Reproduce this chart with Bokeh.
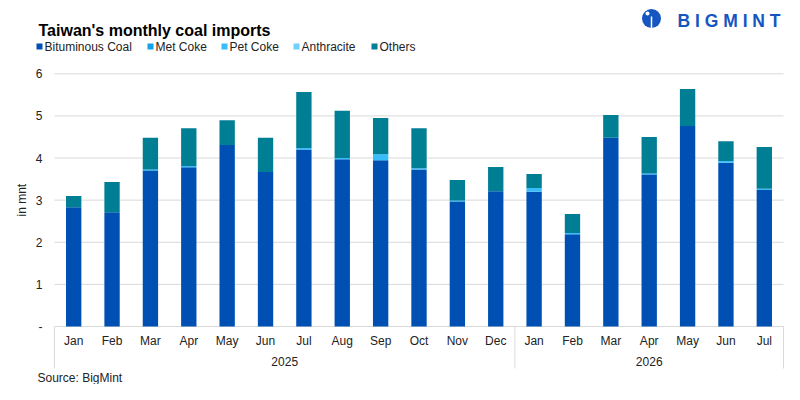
import numpy as np
from bokeh.plotting import figure
from bokeh.models import Range1d, ColumnDataSource
from bokeh.core.properties import value
from bokeh.embed import file_html
from bokeh.resources import INLINE

# ---------------- data ----------------
months = ["Jan", "Feb", "Mar", "Apr", "May", "Jun", "Jul", "Aug", "Sep", "Oct", "Nov", "Dec",
          "Jan", "Feb", "Mar", "Apr", "May", "Jun", "Jul"]
year_labels = ["2025", "2026"]
year_counts = [12, 7]

bituminous = [2.83, 2.71, 3.70, 3.78, 4.31, 3.67, 4.20, 3.97, 3.95, 3.73, 2.96, 3.21,
              3.20, 2.19, 4.48, 3.61, 4.76, 3.89, 3.24]
met_coke   = [0.00, 0.00, 0.03, 0.00, 0.00, 0.00, 0.00, 0.00, 0.00, 0.00, 0.03, 0.00,
              0.00, 0.00, 0.00, 0.03, 0.00, 0.00, 0.00]
pet_coke   = [0.00, 0.00, 0.00, 0.03, 0.00, 0.00, 0.04, 0.03, 0.14, 0.03, 0.00, 0.00,
              0.09, 0.03, 0.00, 0.00, 0.00, 0.04, 0.03]
anthracite = [0.00, 0.00, 0.00, 0.00, 0.00, 0.00, 0.00, 0.00, 0.00, 0.00, 0.00, 0.00,
              0.00, 0.00, 0.00, 0.00, 0.00, 0.00, 0.00]
others     = [0.27, 0.72, 0.75, 0.90, 0.59, 0.81, 1.33, 1.12, 0.86, 0.95, 0.49, 0.58,
              0.33, 0.45, 0.54, 0.86, 0.88, 0.47, 0.99]

series_names = ["Bituminous Coal", "Met Coke", "Pet Coke", "Anthracite", "Others"]
series_keys = ["bit", "met", "pet", "anth", "oth"]
colors = ["#0050B4", "#16A0E6", "#38BDF8", "#73D0FA", "#007E94"]
y_ticks = [0, 1, 2, 3, 4, 5, 6]
y_tick_labels = ["-", "1", "2", "3", "4", "5", "6"]

title_text = "Taiwan's monthly coal imports"
y_label_text = "in mnt"
source_text = "Source: BigMint"
logo_text = "B I G M I N T"

# ---------------- layout (pixels) ----------------
W, H = 784, 384
PLOT_L, PLOT_R = 54.0, 783.0
Y0_PX, Y6_PX = 326.0, 73.3
FONT = "Liberation Sans"
TXT = "#222222"
GRID = "#D9D9D9"
LOGO = "#1556C0"

n = len(months)
ppx = (PLOT_R - PLOT_L) / n
ppy = (Y0_PX - Y6_PX) / y_ticks[-1]


def px_x(px):
    return (px - PLOT_L) / ppx


def px_y(py):
    return (Y0_PX - py) / ppy


p = figure(width=W, height=H,
           x_range=Range1d(px_x(0), px_x(W)), y_range=Range1d(px_y(H), px_y(0)),
           output_backend="svg", toolbar_location=None,
           x_axis_location=None, y_axis_location=None, min_border=0)
p.min_border_left = p.min_border_right = p.min_border_top = p.min_border_bottom = 0
p.outline_line_color = None
p.xgrid.visible = False
p.ygrid.visible = False
p.background_fill_color = "white"
p.border_fill_color = "white"

# gridlines (value axis)
p.segment(x0=0, x1=n, y0=y_ticks, y1=y_ticks, line_color=GRID, line_width=1)

# stacked bars
x = np.arange(n) + 0.5
src = ColumnDataSource(dict(x=x, bit=bituminous, met=met_coke, pet=pet_coke,
                            anth=anthracite, oth=others))
p.vbar_stack(series_keys, x="x", width=0.4, fill_color=colors, line_color=None, source=src)

tf = value(FONT)

# value-axis tick labels and title
p.text(x=px_x(42), y=y_ticks, text=y_tick_labels, text_align="right", text_baseline="middle",
       text_font=tf, text_font_size="12px", text_color=TXT)
p.text(x=[px_x(21.5)], y=[y_ticks[-1] / 2], text=[y_label_text], angle=np.pi / 2,
       text_align="center", text_baseline="middle",
       text_font=tf, text_font_size="12px", text_color=TXT)

# category labels (months / years) and separators
p.text(x=x, y=px_y(340), text=months, text_align="center", text_baseline="middle",
       text_font=tf, text_font_size="12px", text_color=TXT)
bounds = np.concatenate([[0], np.cumsum(year_counts)])
year_x = (bounds[:-1] + bounds[1:]) / 2
p.text(x=year_x, y=px_y(361), text=year_labels, text_align="center", text_baseline="middle",
       text_font=tf, text_font_size="12px", text_color=TXT)
p.segment(x0=bounds, y0=0, x1=bounds, y1=px_y(368), line_color=GRID, line_width=1)

# legend
leg_left_px = [36, 147, 221, 293, 371]
leg_y = px_y(46)
p.scatter(x=[px_x(v + 3) for v in leg_left_px], y=leg_y, marker="square", size=6,
          fill_color=colors, line_color=None)
p.text(x=[px_x(v + 8) for v in leg_left_px], y=leg_y, text=series_names,
       text_align="left", text_baseline="middle",
       text_font=tf, text_font_size="12px", text_color=TXT)

# title
p.text(x=[px_x(38)], y=[px_y(29.5)], text=[title_text], text_align="left",
       text_baseline="alphabetic", text_font=tf, text_font_size="16px",
       text_font_style="bold", text_color="black")

# source
p.text(x=[px_x(37)], y=[px_y(377)], text=[source_text], text_align="left",
       text_baseline="middle", text_font=tf, text_font_size="12px", text_color=TXT)

# logo
p.scatter(x=[px_x(651)], y=[px_y(18)], marker="circle", size=19,
          fill_color=LOGO, line_color=None)
p.scatter(x=[px_x(647), px_x(655)], y=[px_y(13)], marker="circle", size=4,
          fill_color="white", line_color=None)
p.segment(x0=[px_x(651)], y0=[px_y(16)], x1=[px_x(651)], y1=[px_y(28)],
          line_color="white", line_width=1.5)
p.text(x=[px_x(677)], y=[px_y(20)], text=[logo_text], text_align="left",
       text_baseline="middle", text_font=tf, text_font_size="17.5px",
       text_font_style="bold", text_color=LOGO)

open("out.html", "w").write(file_html(p, INLINE))
